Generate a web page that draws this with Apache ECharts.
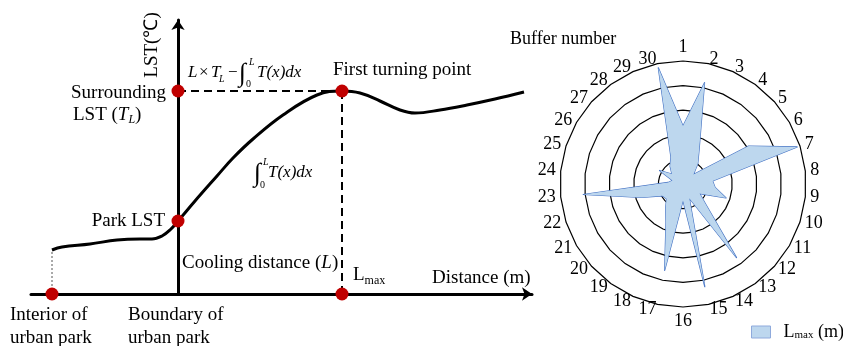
<!DOCTYPE html>
<html><head><meta charset="utf-8">
<script src="https://cdn.jsdelivr.net/npm/echarts@6/dist/echarts.min.js"></script>
<style>html,body{margin:0;padding:0;background:#fff}#c{width:843px;height:346px}</style>
</head><body><div id="c"></div>
<script>
// ---- Left schematic: LST profile (x: distance from park boundary, y: LST) ----
const curveX = [-126,-116,-88,-61,-38,-26,-16,-8,0,17,39,55,75,105,139,164,182,202,222,237,262,289,317,346];
const curveY = [44,47,50,54,55,55,58,64,73,93,118,136,155,179,199,203,201,193,184,181,184,189,195,202];
const interiorX = -126;     // interior of urban park
const interiorStartY = 44;  // first curve value
const parkLST = 73;         // LST at park boundary
const surroundingLST = 203; // T_L
const lmaxX = 164;          // first turning point distance
const xRange = [-147, 354];
const yRange = [0, 274];

// ---- Right: radar of L_max per buffer ----
const bufferNames = ['1','2','3','4','5','6','7','8','9','10','11','12','13','14','15','16','17','18','19','20','21','22','23','24','25','26','27','28','29','30'];
const lmaxValues = [236,421,163,102,57,308,488,121,131,184,78,125,370,63,427,67,359,170,120,90,96,177,408,61,45,110,61,89,121,483];
const radarMax = 500;

const SERIF = '"Liberation Serif","Times New Roman",serif';
const chart = echarts.init(document.getElementById('c'));

// radar places indicators counter-clockwise; reorder so they read clockwise
const order = [0];
for (let i = bufferNames.length - 1; i >= 1; i--) order.push(i);
const indicators = order.map(i => ({ name: bufferNames[i], max: radarMax, min: 0 }));
const radarVals = order.map(i => lmaxValues[i]);

function txt(x, y, t, size, opts) {
  opts = opts || {};
  return {
    type: 'text', x: x, y: y, rotation: opts.rot || 0, z: 100,
    style: {
      text: t, fill: '#000',
      font: (opts.italic ? 'italic ' : '') + size + 'px ' + SERIF,
      textAlign: opts.align || 'left', textVerticalAlign: 'middle'
    }
  };
}
const ctx = document.createElement('canvas').getContext('2d');
function run(x, y, parts, align) {
  let widths = parts.map(p => { ctx.font = (p.italic ? 'italic ' : '') + p.size + 'px ' + SERIF; return ctx.measureText(p.t).width; });
  let total = widths.reduce((a, b) => a + b, 0);
  let cx = align === 'right' ? x - total : x;
  return parts.map((p, i) => { const e = txt(cx, y + (p.dy || 0), p.t, p.size, { italic: p.italic }); cx += widths[i]; return e; });
}

const graphics = [].concat(
  [txt(152, 45, 'LST(℃)', 19, { rot: Math.PI / 2, align: 'center' })],
  [txt(166, 93, 'Surrounding', 19, { align: 'right' })],
  run(73, 115, [{ t: 'LST (', size: 19 }, { t: 'T', size: 19, italic: true }, { t: 'L', size: 12, italic: true, dy: 5 }, { t: ')', size: 19 }]),
  [txt(165, 221, 'Park LST', 19, { align: 'right' })],
  run(182, 263, [{ t: 'Cooling distance (', size: 19 }, { t: 'L', size: 19, italic: true }, { t: ')', size: 19 }]),
  run(353, 275, [{ t: 'L', size: 19 }, { t: 'max', size: 12, dy: 6 }]),
  [txt(432, 278, 'Distance (m)', 19)],
  [txt(333, 70, 'First turning point', 19)],
  // formula 1
  [txt(188, 73, 'L', 17, { italic: true }), txt(199, 73, '×', 17), txt(211, 73, 'T', 17, { italic: true }),
   txt(219, 79, 'L', 10, { italic: true }), txt(228, 73, '−', 17), txt(239, 74, '∫', 26),
   txt(249, 62, 'L', 10, { italic: true }), txt(246, 84, '0', 10), txt(257, 73, 'T(x)dx', 17, { italic: true })],
  // formula 2
  [txt(254, 174, '∫', 26), txt(263, 162, 'L', 10, { italic: true }), txt(260, 185, '0', 10),
   txt(268, 173, 'T(x)dx', 17, { italic: true })],
  [txt(10, 315, 'Interior of', 19), txt(10, 338, 'urban park', 19),
   txt(128, 315, 'Boundary of', 19), txt(128, 338, 'urban park', 19)],
  [txt(510, 39, 'Buffer number', 18)]
);

const option = {
  animation: false,
  backgroundColor: '#fff',
  grid: { left: 31, right: 843 - 532, top: 20, bottom: 346 - 294, containLabel: false },
  xAxis: {
    type: 'value', min: xRange[0], max: xRange[1],
    axisLine: { onZero: true, symbol: ['none', 'arrow'], symbolSize: [10, 10], lineStyle: { color: '#000', width: 3 } },
    axisTick: { show: false }, axisLabel: { show: false }, splitLine: { show: false }
  },
  yAxis: {
    type: 'value', min: yRange[0], max: yRange[1],
    axisLine: { show: true, onZero: true, symbol: ['none', 'arrow'], symbolSize: [10, 10], lineStyle: { color: '#000', width: 3 } },
    axisTick: { show: false }, axisLabel: { show: false }, splitLine: { show: false }
  },
  radar: {
    center: [683, 184], radius: 123, startAngle: 90, splitNumber: 5, shape: 'polygon',
    indicator: indicators, nameGap: 5,
    axisName: { color: '#000', fontSize: 18, fontFamily: SERIF },
    axisLine: { show: false }, axisTick: { show: false }, axisLabel: { show: false },
    splitArea: { show: false },
    splitLine: { lineStyle: { color: '#000', width: 1.2 } }
  },
  legend: {
    data: ['Lmax'], left: 746, top: 318, icon: 'rect', itemWidth: 19, itemHeight: 12,
    itemStyle: { color: '#BDD7EE', borderColor: '#8FAADC', borderWidth: 1 },
    formatter: () => '{a|L}{b|max}{a| (m)}',
    textStyle: { color: '#000', fontFamily: SERIF, fontSize: 18, padding: [0, 0, 0, 8],
      rich: { a: { fontSize: 18, fontFamily: SERIF, color: '#000' }, b: { fontSize: 11, fontFamily: SERIF, color: '#000', verticalAlign: 'bottom', padding: [6, 0, 0, 0] } } }
  },
  graphic: graphics,
  series: [
    {
      type: 'line', name: 'dotted', data: [[interiorX, 0], [interiorX, interiorStartY]], showSymbol: false, silent: true,
      lineStyle: { color: '#555', width: 1, type: [2, 2] }
    },
    {
      type: 'line', name: 'dashH', data: [[0, surroundingLST], [lmaxX, surroundingLST]], showSymbol: false, silent: true,
      lineStyle: { color: '#000', width: 2, type: [8, 5] }
    },
    {
      type: 'line', name: 'dashV', data: [[lmaxX, surroundingLST], [lmaxX, 0]], showSymbol: false, silent: true,
      lineStyle: { color: '#000', width: 2, type: [8, 5] }
    },
    {
      type: 'line', name: 'curve', data: curveX.map((x, i) => [x, curveY[i]]), smooth: 0.4, showSymbol: false,
      lineStyle: { color: '#000', width: 3 }
    },
    {
      type: 'scatter', name: 'points', symbolSize: 13, z: 10,
      data: [[interiorX, 0], [0, parkLST], [0, surroundingLST], [lmaxX, surroundingLST], [lmaxX, 0]],
      itemStyle: { color: '#C00000', opacity: 1 }
    },
    {
      type: 'radar', name: 'Lmax', symbol: 'none',
      data: [{ value: radarVals, name: 'Lmax' }],
      lineStyle: { color: '#4472C4', width: 1.2 },
      itemStyle: { color: '#BDD7EE', borderColor: '#8FAADC' },
      areaStyle: { color: '#BDD7EE', opacity: 1 }
    }
  ]
};
chart.setOption(option);
</script></body></html>
